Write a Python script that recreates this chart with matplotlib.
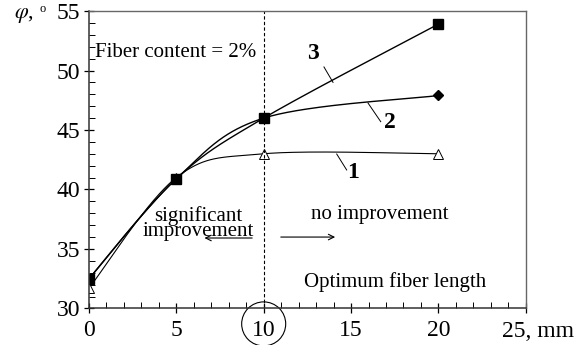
import numpy as np
import matplotlib.pyplot as plt
from matplotlib.patches import Ellipse

plt.rcParams['font.family'] = ['Liberation Serif', 'DejaVu Serif']
plt.rcParams['mathtext.fontset'] = 'stix'

# data
length = [0, 5, 10, 20]             # fiber length, mm
phi_1 = [31.7, 41.0, 43.0, 43.0]    # curve 1, open triangles
phi_2 = [32.5, 40.9, 46.0, 47.9]    # curve 2, diamonds
phi_3 = [32.5, 40.9, 46.0, 53.9]    # curve 3, squares
xticks = [0, 5, 10, 15, 20, 25]
xticklabels = ['0', '5', '10', '15', '20', '']
yticks = [30, 35, 40, 45, 50, 55]


def smooth(xs, ys, n=60):
    # excel-like smoothed line (bezier through the points)
    p = np.column_stack([xs, ys]).astype(float)
    p = np.vstack([p[0], p, p[-1]])
    out = []
    for i in range(1, len(p) - 2):
        p0, p1, p2, p3 = p[i - 1], p[i], p[i + 1], p[i + 2]
        c1 = p1 + (p2 - p0) / 6
        c2 = p2 - (p3 - p1) / 6
        t = np.linspace(0, 1, n)[:, None]
        seg = (1 - t)**3 * p1 + 3 * (1 - t)**2 * t * c1 + 3 * (1 - t) * t**2 * c2 + t**3 * p2
        out.append(seg)
    out = np.vstack(out)
    return out[:, 0], out[:, 1]


fig = plt.figure(figsize=(5.79, 3.45), dpi=100)
ax = fig.add_axes([0.1537, 0.106, 0.7543, 0.862])

x1, y1 = smooth(length, phi_1)
x2, y2 = smooth(length, phi_2)
x3, y3 = smooth(length, phi_3)
ax.plot(x1, y1, color='black', lw=0.8)
ax.plot(x2, y2, color='black', lw=1.0)
ax.plot(x3, y3, color='black', lw=1.0)
ax.plot(length, phi_1, ls='none', marker='^', ms=7, mfc='white', mec='black', mew=0.7)
ax.plot(length, phi_2, ls='none', marker='D', ms=5, color='black')
ax.plot(length, phi_3, ls='none', marker='s', ms=6.5, color='black')

ax.axvline(10, color='black', lw=0.8, ls=(0, (3, 2)))

ax.set_xlim(0, 25)
ax.set_ylim(30, 55)
ax.set_xticks(xticks)
ax.set_xticklabels(xticklabels)
ax.set_yticks(yticks)
ax.set_xticks(np.arange(0, 26, 1), minor=True)
ax.set_yticks(np.arange(30, 56, 1), minor=True)
ax.tick_params(which='major', direction='inout', length=7, width=0.9, labelsize=17)
ax.tick_params(axis='x', which='major', pad=5)
ax.tick_params(axis='y', which='major', pad=3)
ax.tick_params(which='minor', direction='in', length=4, width=0.7)
for s in ['left', 'bottom']:
    ax.spines[s].set_color('#333333')
    ax.spines[s].set_linewidth(1.1)
for s in ['right', 'top']:
    ax.spines[s].set_color('#666666')
    ax.spines[s].set_linewidth(1.0)

fig.text(0.025, 0.955, r'$\varphi$,', fontsize=16, ha='left', va='center')
fig.text(0.073, 0.975, 'o', fontsize=9, ha='center', va='center')
fig.text(0.867, 0.038, '25, mm', fontsize=17, ha='left', va='center')

ax.text(0.35, 51.55, 'Fiber content = 2%', fontsize=15, ha='left', va='center')
ax.text(6.24, 37.15, 'significant\nimprovement', fontsize=15, ha='center', va='center',
        linespacing=0.72)
ax.text(16.66, 37.86, 'no improvement', fontsize=15, ha='center', va='center')
ax.text(17.5, 32.25, 'Optimum fiber length', fontsize=15, ha='center', va='center')

ax.annotate('', xy=(6.45, 35.92), xytext=(9.5, 35.92),
            arrowprops=dict(arrowstyle='->', color='black', lw=0.8))
ax.annotate('', xy=(14.25, 36.0), xytext=(10.82, 36.0),
            arrowprops=dict(arrowstyle='->', color='black', lw=0.8))

# curve numbers with leader lines
ax.text(12.8, 51.4, '3', fontsize=17, fontweight='bold', ha='center', va='center')
ax.plot([13.45, 13.97], [50.3, 49.0], color='black', lw=0.7)
ax.text(17.25, 45.6, '2', fontsize=17, fontweight='bold', ha='center', va='center')
ax.plot([15.97, 16.7], [47.27, 45.7], color='black', lw=0.7)
ax.text(15.1, 41.45, '1', fontsize=17, fontweight='bold', ha='center', va='center')
ax.plot([14.18, 14.75], [42.98, 41.64], color='black', lw=0.7)

ax.add_patch(Ellipse((10, 28.7), 2.52, 3.7, fill=False, color='black', lw=0.8, clip_on=False))

fig.savefig('out.png', dpi=100)
